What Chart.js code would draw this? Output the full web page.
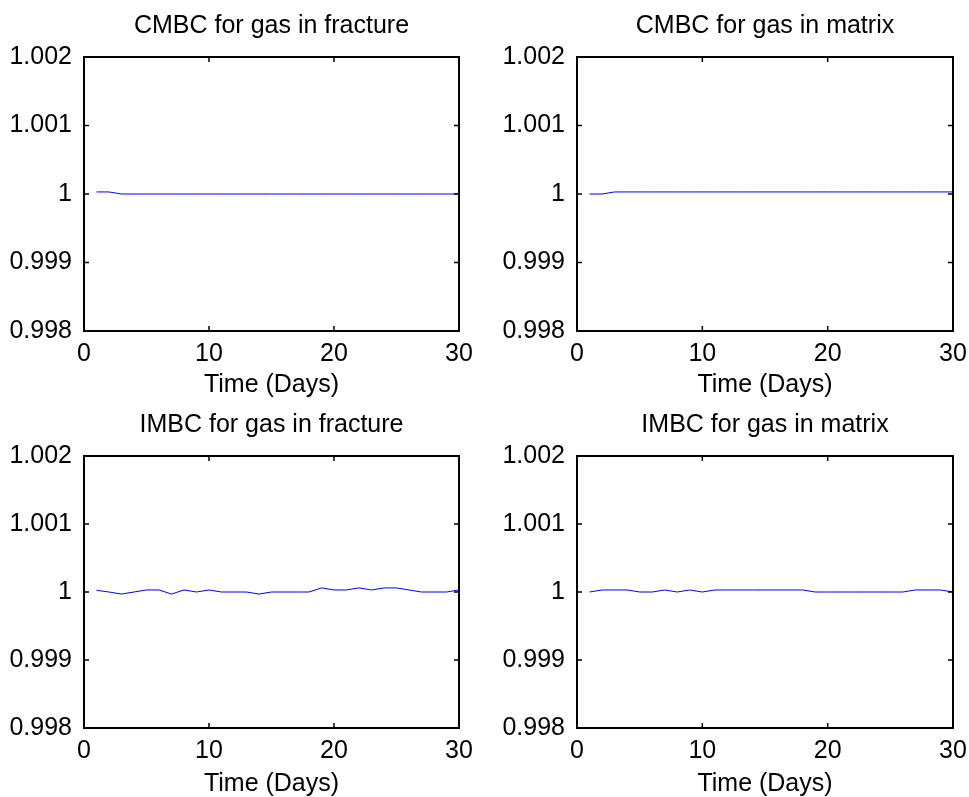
<!DOCTYPE html>
<html lang="en">
<head>
  <meta charset="UTF-8" />
  <title>Mass balance check</title>
  <script src="https://cdn.jsdelivr.net/npm/chart.js"></script>
  <style>
    body {
      margin: 0;
      padding: 0;
      background: #fff;
    }

    .figure {
      position: relative;
      width: 969px;
      height: 797px;
    }

    .panel {
      position: absolute;
    }
  </style>
</head>
<body>
  <div class="figure">
    <div class="panel" style="left:0;top:0;width:484px;height:398px;"><canvas id="cmbcFracture"></canvas></div>
    <div class="panel" style="left:493px;top:0;width:476px;height:398px;"><canvas id="cmbcMatrix"></canvas></div>
    <div class="panel" style="left:0;top:399px;width:484px;height:398px;"><canvas id="imbcFracture"></canvas></div>
    <div class="panel" style="left:493px;top:399px;width:476px;height:398px;"><canvas id="imbcMatrix"></canvas></div>
  </div>

  <script>
    // time axis (days)
    const days = [1, 2, 3, 4, 5, 6, 7, 8, 9, 10, 11, 12, 13, 14, 15, 16, 17, 18, 19, 20, 21, 22, 23, 24, 25, 26, 27, 28, 29, 30];

    // values
    const cmbcFracture = [1.00003, 1.00003, 1, 1, 1, 1, 1, 1, 1, 1, 1, 1, 1, 1, 1, 1, 1, 1, 1, 1, 1, 1, 1, 1, 1, 1, 1, 1, 1, 1];
    const cmbcMatrix = [1, 1, 1.00003, 1.00003, 1.00003, 1.00003, 1.00003, 1.00003, 1.00003, 1.00003, 1.00003, 1.00003, 1.00003, 1.00003, 1.00003, 1.00003, 1.00003, 1.00003, 1.00003, 1.00003, 1.00003, 1.00003, 1.00003, 1.00003, 1.00003, 1.00003, 1.00003, 1.00003, 1.00003, 1.00003];
    const imbcFracture = [1.000025, 1, 0.99997, 1, 1.00003, 1.00003, 0.99997, 1.00003, 1, 1.00003, 1, 1, 1, 0.99997, 1, 1, 1, 1, 1.00006, 1.00003, 1.00003, 1.00006, 1.00003, 1.00006, 1.00006, 1.00003, 1, 1, 1, 1.00003];
    const imbcMatrix = [1, 1.00003, 1.00003, 1.00003, 1, 1, 1.00003, 1, 1.00003, 1, 1.00003, 1.00003, 1.00003, 1.00003, 1.00003, 1.00003, 1.00003, 1.00003, 1, 1, 1, 1, 1, 1, 1, 1, 1.00003, 1.00003, 1.00003, 1];

    // tick values and labels
    const yTicks = [0.998, 0.999, 1, 1.001, 1.002];
    const yTickLabels = ['0.998', '0.999', '1', '1.001', '1.002'];
    const xTicks = [0, 10, 20, 30];
    const xTickLabels = ['0', '10', '20', '30'];

    const FONT = { family: '"Liberation Sans", Arial, sans-serif', size: 25 };

    // MATLAB style box with inward ticks
    const boxPlugin = {
      id: 'matlabBox',
      afterDraw(chart) {
        const ctx = chart.ctx;
        const a = chart.chartArea;
        const xs = chart.scales.x;
        const ys = chart.scales.y;
        const len = 5;
        ctx.save();
        ctx.strokeStyle = '#000';
        ctx.lineWidth = 1.5;
        ctx.beginPath();
        xTicks.forEach(v => {
          const px = xs.getPixelForValue(v);
          ctx.moveTo(px, a.bottom);
          ctx.lineTo(px, a.bottom - len);
          ctx.moveTo(px, a.top);
          ctx.lineTo(px, a.top + len);
        });
        yTicks.forEach(v => {
          const py = ys.getPixelForValue(v);
          ctx.moveTo(a.left, py);
          ctx.lineTo(a.left + len, py);
          ctx.moveTo(a.right, py);
          ctx.lineTo(a.right - len, py);
        });
        ctx.stroke();
        ctx.lineWidth = 2;
        ctx.strokeRect(a.left, a.top, a.right - a.left, a.bottom - a.top);
        ctx.restore();
      }
    };

    function createChart(canvasId, title, values, rightPad, bottomSpace) {
      const config = {
        type: 'line',
        data: {
          labels: days,
          datasets: [{
            data: days.map((d, i) => ({ x: d, y: values[i] })),
            borderColor: '#0000ff',
            borderWidth: 1,
            pointRadius: 0,
            fill: false,
            tension: 0
          }]
        },
        options: {
          responsive: true,
          maintainAspectRatio: false,
          animation: false,
          layout: { padding: { left: 0, right: rightPad, top: 0, bottom: 0 } },
          plugins: {
            legend: { display: false },
            tooltip: { enabled: false },
            title: {
              display: true,
              text: title,
              color: '#000',
              fullSize: false,
              font: { ...FONT, weight: 'normal' },
              padding: { top: 11, bottom: 16 }
            }
          },
          scales: {
            x: {
              type: 'linear',
              min: 0,
              max: 30,
              grid: { display: false },
              border: { display: false },
              afterBuildTicks: scale => { scale.ticks = xTicks.map(v => ({ value: v })); },
              afterFit: scale => { scale.height = bottomSpace; },
              ticks: {
                color: '#000',
                font: FONT,
                padding: 0,
                maxRotation: 0,
                autoSkip: false,
                callback: (v) => xTickLabels[xTicks.indexOf(v)]
              },
              title: {
                display: true,
                text: 'Time (Days)',
                color: '#000',
                font: FONT,
                padding: { top: 0, bottom: -2 }
              }
            },
            y: {
              min: 0.998,
              max: 1.002,
              grid: { display: false },
              border: { display: false },
              afterBuildTicks: scale => { scale.ticks = yTicks.map(v => ({ value: v })); },
              afterFit: scale => { scale.width = 84; },
              ticks: {
                color: '#000',
                font: FONT,
                padding: 4,
                autoSkip: false,
                callback: (v) => yTickLabels[yTicks.indexOf(v)]
              }
            }
          }
        },
        plugins: [boxPlugin]
      };
      return new Chart(document.getElementById(canvasId).getContext('2d'), config);
    }

    createChart('cmbcFracture', 'CMBC for gas in fracture', cmbcFracture, 25, 67);
    createChart('cmbcMatrix', 'CMBC for gas in matrix', cmbcMatrix, 16, 67);
    createChart('imbcFracture', 'IMBC for gas in fracture', imbcFracture, 25, 69);
    createChart('imbcMatrix', 'IMBC for gas in matrix', imbcMatrix, 16, 69);
  </script>
</body>
</html>
